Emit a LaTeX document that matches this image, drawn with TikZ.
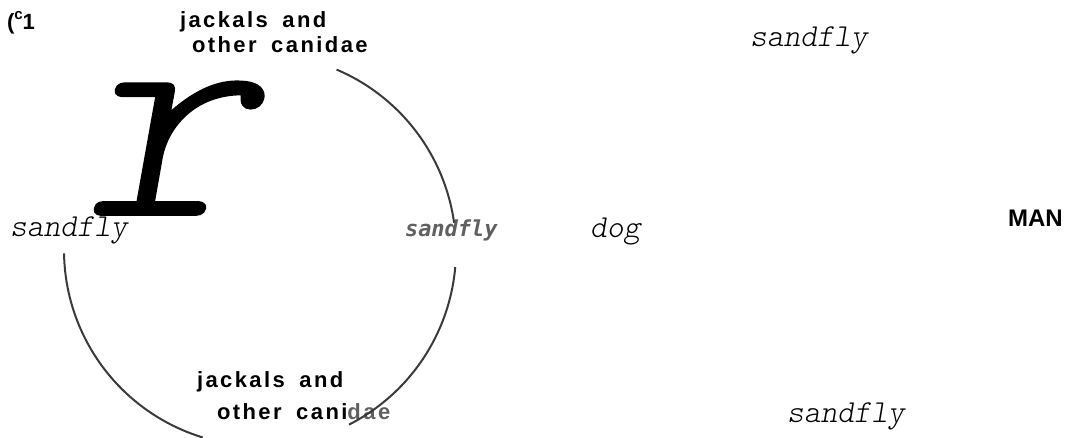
\documentclass[tikz,border=0pt]{standalone}
\usepackage{fontspec}
\usepackage{tikz}
\usetikzlibrary{positioning, calc}
\newfontfamily\sansfam{Liberation Sans Bold}[LetterSpace=11]
\newfontfamily\sansplain{Liberation Sans}[BoldFont={Liberation Sans Bold}]
\newfontfamily\scanfam{DejaVu Sans Mono}
\newfontfamily\typefam{lmmonolt10-oblique}[Extension=.otf]
\newfontfamily\heavytype{lmmonolt10-oblique}[Extension=.otf, FakeBold=0.6]
\definecolor{arcgrey}{HTML}{3A3A3A}
\definecolor{scangrey}{HTML}{606060}

\begin{document}
\begin{tikzpicture}[
    x=1pt, y=1pt,
    every node/.style={inner sep=0pt, outer sep=0pt},
    mono/.style={
      anchor=base west,
      font=\fontsize{32}{32}\selectfont\typefam
    },
    boldlabel/.style={
      anchor=base west,
      font=\fontsize{22}{22}\selectfont\sansfam
    },
    plainbold/.style={
      anchor=base west,
      font=\fontsize{24}{24}\selectfont\sansplain\bfseries
    },
    scan/.style={
      anchor=base west,
      text=scangrey,
      font=\fontsize{22}{22}\selectfont\scanfam\bfseries\itshape
    },
    bigr/.style={
      anchor=base west,
      font=\fontsize{310}{310}\selectfont\heavytype
    },
    cyclearc/.style={
      draw=arcgrey,
      line width=2pt
    }
  ]
  \useasboundingbox (0,0) rectangle (1067,438);

  \node[plainbold, font=\fontsize{22}{22}\selectfont\sansplain\bfseries] (fig) at (7,408)
    {(\raisebox{10pt}{\fontsize{15}{15}\selectfont c}1};

  \node[boldlabel] (jackA) at (180,410) {jackals\hspace{6pt} and};
  \node[boldlabel] (canA) at ($(jackA.base west)+(12,-25)$) {other\hspace{6pt} canidae};

  \node[bigr] (glyph) at (82,223) {\scalebox{1.07}[1]{r}};

  \node[mono] (flyL) at (10,201) {sandfly};
  \node[scan] (flyC) at (405,201) {sandfly};
  \node[mono] (dog) at (590,200) {dog};
  \node[plainbold] (man) at (1008,211) {MAN};
  \node[mono] (flyT) at (750,391) {sandfly};
  \node[mono] (flyB) at (787,15) {sandfly};

  \node[boldlabel] (jackB) at (197,50) {jackals\hspace{6pt} and};
  \node[boldlabel] (canB) at ($(jackB.base west)+(20,-32)$) {other\hspace{6pt} cani};
  \node[boldlabel, text=scangrey] (dae) at (canB.base east) {dae};

  \coordinate (hub) at (260,188);
  \draw[cyclearc] ($(hub)+(67:196)$) arc[start angle=67, end angle=8, radius=196];
  \draw[cyclearc] ($(hub)+(-5:196)$) arc[start angle=-5, end angle=-63, radius=196];
  \draw[cyclearc] ($(hub)+(181:196)$) arc[start angle=181, end angle=253, radius=196];

\end{tikzpicture}
\end{document}
